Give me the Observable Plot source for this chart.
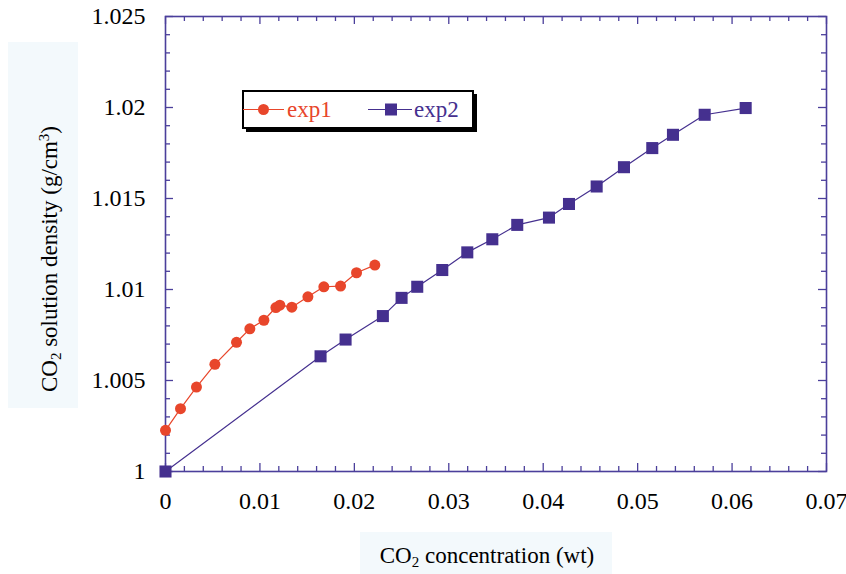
<!DOCTYPE html>
<html><head><meta charset="utf-8">
<script src="https://cdn.jsdelivr.net/npm/d3@7"></script>
<script src="https://cdn.jsdelivr.net/npm/@observablehq/plot@0.6"></script>
<style>
body{margin:0;background:#fff;}
#chart svg, #chart svg text, #chart svg tspan { font-family: "Liberation Serif", "DejaVu Serif", serif !important; }
</style>
</head><body><div id="chart"></div>
<script>
// exp1 series
const exp1X = [0, 0.00159, 0.00328, 0.00523, 0.00752, 0.00893, 0.01042, 0.01169, 0.01211, 0.01338, 0.01508, 0.01677, 0.01854, 0.02023, 0.02217];
const exp1Y = [1.00226, 1.00345, 1.00464, 1.00589, 1.0071, 1.00784, 1.00831, 1.00901, 1.00914, 1.00903, 1.0096, 1.01015, 1.01019, 1.01092, 1.01134];
// exp2 series
const exp2X = [0, 0.01642, 0.01907, 0.02302, 0.025, 0.02666, 0.02931, 0.03196, 0.03461, 0.03725, 0.04061, 0.04273, 0.04566, 0.04855, 0.05155, 0.05374, 0.0571, 0.06144];
const exp2Y = [1.0, 1.00633, 1.00725, 1.00854, 1.00954, 1.01015, 1.01107, 1.01204, 1.01276, 1.01355, 1.01395, 1.0147, 1.01566, 1.01672, 1.01777, 1.0185, 1.0196, 1.01997];
// tick values and labels
const xTicks = [0, 0.01, 0.02, 0.03, 0.04, 0.05, 0.06, 0.07];
const xTickLabels = ["0", "0.01", "0.02", "0.03", "0.04", "0.05", "0.06", "0.07"];
const yTicks = [1, 1.005, 1.01, 1.015, 1.02, 1.025];
const yTickLabels = ["1", "1.005", "1.01", "1.015", "1.02", "1.025"];
const seriesNames = ["exp1", "exp2"];

const exp1 = exp1X.map((x, i) => ({x, y: exp1Y[i]}));
const exp2 = exp2X.map((x, i) => ({x, y: exp2Y[i]}));

const W = 846, H = 574, ML = 165, MR = 20, MT = 16, MB = 103;
const PH = H - MT - MB, PW = W - ML - MR;
const RED = "#e8462b", PURPLE = "#45308f", AXIS = "#4b3f9b";
const FONT = '"Liberation Serif", "DejaVu Serif", serif';

const xMinor = d3.range(0, 36).map(i => i * 0.002).filter(v => Math.abs(Math.round(v * 100) - v * 100) > 1e-6);
const yMinor = d3.range(0, 26).map(i => 1 + i * 0.001).filter(v => Math.abs(Math.round((v - 1) * 200) - (v - 1) * 200) > 1e-6);

const plot = Plot.plot({
  width: W, height: H,
  marginLeft: ML, marginRight: MR, marginTop: MT, marginBottom: MB,
  style: {fontFamily: FONT, fontSize: "24px", color: "#000", background: "transparent"},
  x: {domain: [0, 0.07]},
  y: {domain: [1, 1.025]},
  marks: [
    Plot.axisX({ticks: xTicks, tickSize: 0, tickPadding: 20, tickFormat: d => xTickLabels[xTicks.indexOf(d)], label: null, fontSize: 24, fill: "#000"}),
    Plot.axisY({ticks: yTicks, tickSize: 0, tickPadding: 20, tickFormat: d => yTickLabels[yTicks.indexOf(d)], label: null, fontSize: 24, fill: "#000"}),
    // inward ticks on all four sides
    Plot.tickX(xTicks, {x: d => d, insetTop: PH - 8, stroke: AXIS, strokeWidth: 1.3}),
    Plot.tickX(xMinor, {x: d => d, insetTop: PH - 5, stroke: AXIS, strokeWidth: 1.3}),
    Plot.tickX(xTicks, {x: d => d, insetBottom: PH - 8, stroke: AXIS, strokeWidth: 1.3}),
    Plot.tickX(xMinor, {x: d => d, insetBottom: PH - 5, stroke: AXIS, strokeWidth: 1.3}),
    Plot.tickY(yTicks, {y: d => d, insetRight: PW - 8, stroke: AXIS, strokeWidth: 1.3}),
    Plot.tickY(yMinor, {y: d => d, insetRight: PW - 5, stroke: AXIS, strokeWidth: 1.3}),
    Plot.tickY(yTicks, {y: d => d, insetLeft: PW - 8, stroke: AXIS, strokeWidth: 1.3}),
    Plot.tickY(yMinor, {y: d => d, insetLeft: PW - 5, stroke: AXIS, strokeWidth: 1.3}),
    Plot.frame({stroke: AXIS, strokeWidth: 1.6}),
    Plot.line(exp1, {x: "x", y: "y", stroke: RED, strokeWidth: 1.2}),
    Plot.dot(exp1, {x: "x", y: "y", r: 5.5, fill: RED, stroke: "none"}),
    Plot.line(exp2, {x: "x", y: "y", stroke: PURPLE, strokeWidth: 1.2}),
    Plot.dot(exp2, {x: "x", y: "y", symbol: "square", r: 6.8, fill: PURPLE, stroke: "none"})
  ]
});
document.getElementById("chart").appendChild(plot);

const svg = d3.select(plot);

// axis title backgrounds and texts
const bg = svg.insert("g", ":first-child");
bg.append("rect").attr("x", 8).attr("y", 42).attr("width", 70).attr("height", 366).attr("fill", "#f3f9fc");
bg.append("rect").attr("x", 360).attr("y", 532).attr("width", 252).attr("height", 42).attr("fill", "#f3f9fc");

const yt = svg.append("text").attr("transform", "translate(57,259) rotate(-90)")
  .attr("text-anchor", "middle").attr("font-family", FONT).attr("font-size", 23).attr("fill", "#000");
yt.append("tspan").text("CO");
yt.append("tspan").attr("baseline-shift", "-25%").attr("font-size", 15).text("2");
yt.append("tspan").text(" solution density (g/cm");
yt.append("tspan").attr("baseline-shift", "super").attr("font-size", 15).text("3");
yt.append("tspan").text(")");

const xt = svg.append("text").attr("x", 487).attr("y", 563)
  .attr("text-anchor", "middle").attr("font-family", FONT).attr("font-size", 23).attr("fill", "#000");
xt.append("tspan").text("CO");
xt.append("tspan").attr("baseline-shift", "-25%").attr("font-size", 15).text("2");
xt.append("tspan").text(" concentration (wt)");

// legend
const lg = svg.append("g").attr("text-anchor", "start");
lg.append("rect").attr("x", 246).attr("y", 94).attr("width", 231).attr("height", 38).attr("fill", "#000");
lg.append("rect").attr("x", 243).attr("y", 91).attr("width", 230).attr("height", 37).attr("fill", "#fff").attr("stroke", "#000").attr("stroke-width", 2);
lg.append("line").attr("x1", 243).attr("x2", 284).attr("y1", 109.5).attr("y2", 109.5).attr("stroke", RED).attr("stroke-width", 1.2);
lg.append("circle").attr("cx", 263.5).attr("cy", 109.5).attr("r", 5.5).attr("fill", RED);
lg.append("text").attr("x", 287).attr("y", 117).attr("text-anchor", "start").attr("font-family", FONT).attr("font-size", 23).attr("fill", RED).text(seriesNames[0]);
lg.append("line").attr("x1", 368).attr("x2", 412).attr("y1", 109.5).attr("y2", 109.5).attr("stroke", PURPLE).attr("stroke-width", 1.2);
lg.append("rect").attr("x", 385).attr("y", 103.5).attr("width", 12).attr("height", 12).attr("fill", PURPLE);
lg.append("text").attr("x", 414).attr("y", 117).attr("text-anchor", "start").attr("font-family", FONT).attr("font-size", 23).attr("fill", PURPLE).text(seriesNames[1]);
</script>
</body></html>
